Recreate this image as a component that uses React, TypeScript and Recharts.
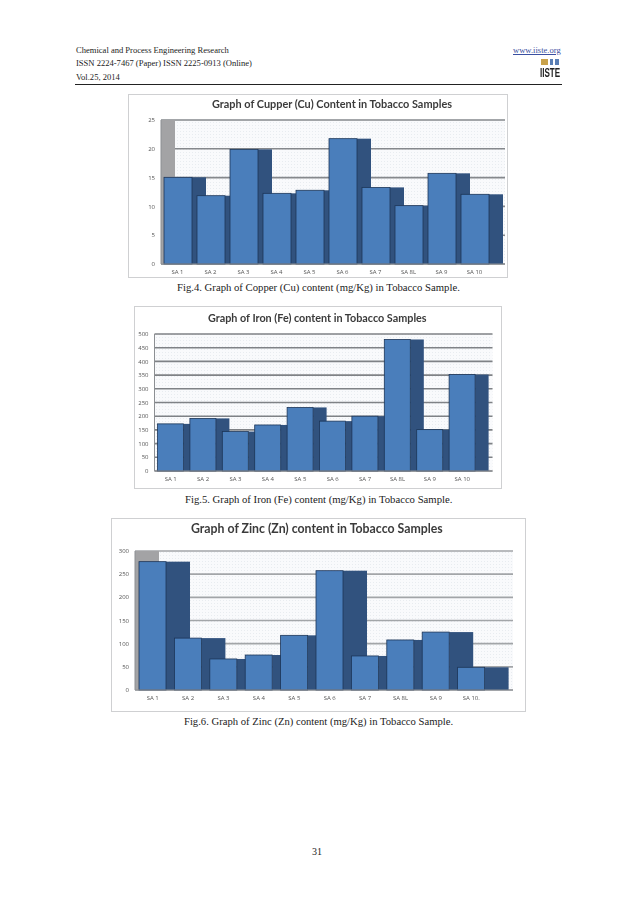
import { BarChart, Bar, XAxis, YAxis, CartesianGrid, usePlotArea } from "recharts";

const categories = ["SA 1", "SA 2", "SA 3", "SA 4", "SA 5", "SA 6", "SA 7", "SA 8L", "SA 9", "SA 10"];
const zincCategories = ["SA 1", "SA 2", "SA 3", "SA 4", "SA 5", "SA 6", "SA 7", "SA 8L", "SA 9", "SA 10."];

const copperValues = [15.05, 11.86, 19.9, 12.27, 12.8, 21.76, 13.3, 10.13, 15.74, 12.1];
const ironValues = [172, 192, 144, 168, 232, 182, 200, 480, 151, 352];
const zincValues = [277, 112, 67, 75.5, 118, 257.5, 73.5, 108, 125, 49];

const copperTicks = [0, 5, 10, 15, 20, 25];
const ironTicks = [0, 50, 100, 150, 200, 250, 300, 350, 400, 450, 500];
const zincTicks = [0, 50, 100, 150, 200, 250, 300];

const toRows = (names: string[], values: number[]) =>
  names.map((name, i) => ({ name, value: values[i] }));

// Excel style wall on the left of the plot
function Wall({ width }: { width: number }) {
  const plot = usePlotArea();
  if (!plot || !width) return null;
  return <rect x={plot.x} y={plot.y} width={width} height={plot.height} fill="#a3a3a5" />;
}

// front face plus the darker side face, drawn in order so the next bar covers it
function Bar3D(props: any) {
  const { x, y, width, height, side } = props;
  return (
    <g>
      <rect x={x + width} y={y} width={side} height={height} fill="#31527e" />
      <rect x={x} y={y} width={width} height={height} fill="#4a7ebb" stroke="#1c3557" strokeWidth={0.8} />
    </g>
  );
}

function GraphPanel(props: any) {
  const { id, title, names, values, ticks, box, plot, barSize, side, gapRight, wall, titleX, titleY, titleSize, gridColor } = props;
  const data = toRows(names, values);
  return (
    <div
      style={{
        position: "absolute",
        left: box.x,
        top: box.y,
        width: box.w,
        height: box.h,
        boxSizing: "border-box",
        border: "1px solid #cfd0d2",
        background: "#fff",
        filter: "blur(0.5px)",
      }}
    >
      <div
        style={{
          position: "absolute",
          left: titleX - box.x - 1,
          top: titleY - box.y - 9,
          lineHeight: "16px",
          fontFamily: "Lato, sans-serif",
          fontWeight: 700,
          fontSize: titleSize,
          color: "#3b3b3b",
          whiteSpace: "nowrap",
        }}
      >
        {title}
      </div>
      <BarChart
        width={box.w - 2}
        height={box.h - 2}
        data={data}
        barSize={barSize}
        margin={{
          top: plot.top - box.y - 1,
          right: box.x + box.w - plot.right - 1,
          bottom: box.y + box.h - plot.bottom - 13,
          left: 0,
        }}
      >
        <defs>
          <pattern id={id} width="3" height="3" patternUnits="userSpaceOnUse">
            <rect width="3" height="3" fill="#f9fafc" />
            <rect width="1" height="1" fill="#e8ecf0" />
          </pattern>
        </defs>
        <CartesianGrid vertical={false} fill={`url(#${id})`} stroke={gridColor} strokeWidth={1.6} />
        <Wall width={wall} />
        <XAxis
          dataKey="name"
          height={12}
          padding={{ left: 0, right: gapRight }}
          interval={0}
          tickLine={false}
          tickSize={3}
          axisLine={{ stroke: "#8c8f93" }}
          tick={{ fontSize: 6, fill: "#555", fontFamily: "'Open Sans', sans-serif" }}
          tickMargin={3}
        />
        <YAxis
          width={plot.left - box.x - 1}
          domain={[0, ticks[ticks.length - 1]]}
          ticks={ticks}
          interval={0}
          tickLine={false}
          tickSize={3}
          axisLine={{ stroke: "#8c8f93" }}
          tick={{ fontSize: 6, fill: "#555", fontFamily: "'Open Sans', sans-serif" }}
          tickMargin={3}
        />
        <Bar dataKey="value" isAnimationActive={false} shape={(p: any) => <Bar3D {...p} side={side} />} />
      </BarChart>
    </div>
  );
}

function PageText({ x, y, size = 8.55, color = "#222", children, style }: any) {
  return (
    <div
      style={{
        position: "absolute",
        left: x,
        top: y - 7,
        lineHeight: "14px",
        fontFamily: "'Liberation Serif', serif",
        fontSize: size,
        color,
        whiteSpace: "nowrap",
        ...style,
      }}
    >
      {children}
    </div>
  );
}

export default function App() {
  return (
    <div style={{ position: "absolute", left: 0, top: 0, width: 638, height: 903, background: "#fff", overflow: "hidden" }}>
      <PageText x={76} y={50}>Chemical and Process Engineering Research</PageText>
      <PageText x={76} y={63}>ISSN 2224-7467 (Paper) ISSN 2225-0913 (Online)</PageText>
      <PageText x={76} y={77}>Vol.25, 2014</PageText>
      <PageText x={513} y={50} color="#3a4fa0" style={{ textDecoration: "underline" }}>www.iiste.org</PageText>

      {/* logo */}
      <div style={{ position: "absolute", left: 541, top: 59, width: 7, height: 6, background: "#c9a24a" }} />
      <div style={{ position: "absolute", left: 550, top: 59, width: 3, height: 6, background: "#5a7fb5" }} />
      <div style={{ position: "absolute", left: 555, top: 59, width: 4, height: 6, background: "#5a7fb5" }} />
      <div
        style={{
          position: "absolute",
          left: 540,
          top: 65,
          lineHeight: "16px",
          fontFamily: "'Liberation Sans', sans-serif",
          fontWeight: 700,
          fontSize: 13,
          color: "#222",
          transform: "scaleX(0.62)",
          transformOrigin: "left",
        }}
      >
        IISTE
      </div>
      <div style={{ position: "absolute", left: 75, top: 84, width: 487, height: 1, background: "#222" }} />

      <GraphPanel
        id="dotsCu"
        title="Graph of Cupper (Cu) Content in Tobacco Samples"
        names={categories}
        values={copperValues}
        ticks={copperTicks}
        box={{ x: 128, y: 94, w: 380, h: 184 }}
        plot={{ left: 161, right: 505, top: 120, bottom: 264 }}
        barSize={28}
        side={14}
        gapRight={14}
        wall={14}
        titleX={212}
        titleY={104}
        titleSize={10.9}
        gridColor="#85888c"
      />
      <PageText x={177} y={287} size={10.7}>Fig.4. Graph of Copper (Cu) content (mg/Kg) in Tobacco Sample.</PageText>

      <GraphPanel
        id="dotsFe"
        title="Graph of Iron (Fe) content in Tobacco Samples"
        names={categories}
        values={ironValues}
        ticks={ironTicks}
        box={{ x: 134, y: 306, w: 368, h: 183 }}
        plot={{ left: 154.5, right: 492.5, top: 334, bottom: 471 }}
        barSize={26}
        side={13.5}
        gapRight={14}
        wall={0}
        titleX={208}
        titleY={318}
        titleSize={10.8}
        gridColor="#7f8286"
      />
      <PageText x={185} y={499} size={10.7}>Fig.5. Graph of Iron (Fe) content (mg/Kg) in Tobacco Sample.</PageText>

      <GraphPanel
        id="dotsZn"
        title="Graph of Zinc (Zn) content in Tobacco Samples"
        names={zincCategories}
        values={zincValues}
        ticks={zincTicks}
        box={{ x: 110.5, y: 518, w: 415, h: 194 }}
        plot={{ left: 134.5, right: 512.5, top: 551, bottom: 690 }}
        barSize={27}
        side={24}
        gapRight={24}
        wall={24}
        titleX={191}
        titleY={529}
        titleSize={12.3}
        gridColor="#a2a5a8"
      />
      <PageText x={184} y={722} size={10.65}>Fig.6. Graph of Zinc (Zn) content (mg/Kg) in Tobacco Sample.</PageText>

      <PageText x={312} y={852} size={10}>31</PageText>
    </div>
  );
}
